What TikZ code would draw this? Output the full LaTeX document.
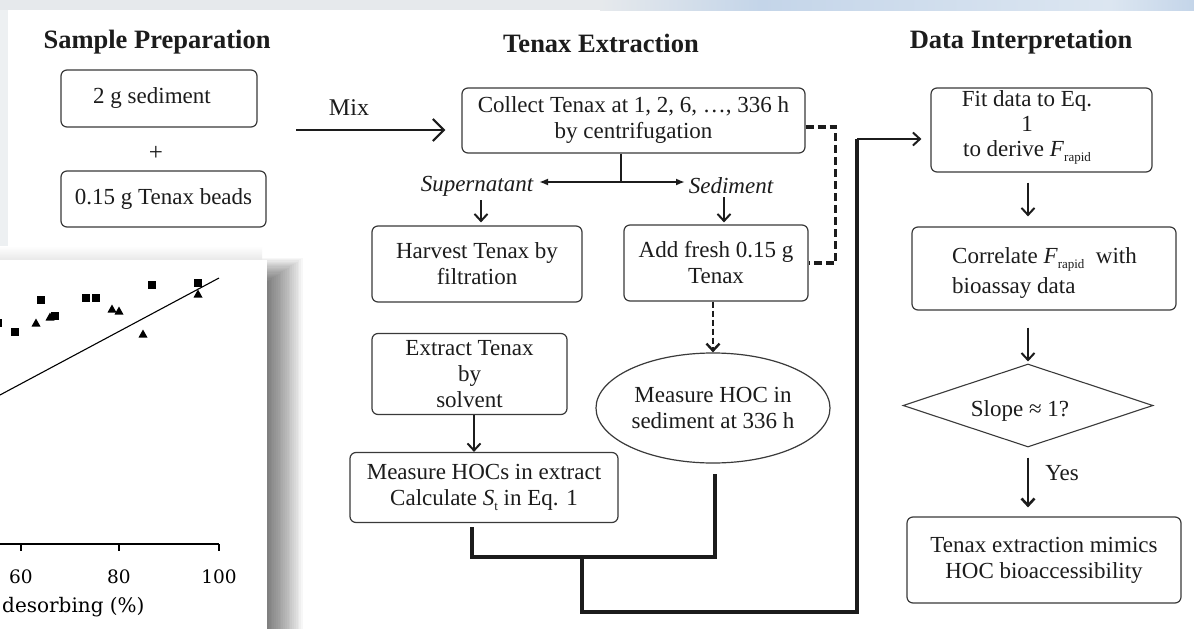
\documentclass[tikz,border=0pt]{standalone}
\usepackage{fontspec}
\setmainfont{Liberation Serif}
\newfontfamily\chartfont{DejaVu Serif}
\usetikzlibrary{arrows.meta,shapes.geometric}
\definecolor{ink}{HTML}{1C1C1C}
\definecolor{edge}{HTML}{3A3A3A}
\definecolor{framegray}{HTML}{E6E9EC}
\definecolor{frameblue}{HTML}{C4D5E9}
\definecolor{framelight}{HTML}{DCE6F1}
\newcommand\lowsub[1]{\raisebox{-5pt}{\fontsize{13}{13}\selectfont #1}}
\tikzset{
  body/.style={font=\fontsize{23}{26}\selectfont, text=ink, align=center, inner sep=0pt},
  head/.style={font=\fontsize{26.5}{30}\selectfont\bfseries, text=ink, inner sep=0pt},
  stepbox/.style={body, draw=edge, line width=1.2pt, rounded corners=6pt},
  arr/.style={draw=ink, line width=2pt, -{Straight Barb[length=7pt,width=13pt]}},
  bigarr/.style={draw=ink, line width=2.2pt, -{Straight Barb[length=11pt,width=22pt]}},
  fork/.style={draw=ink, line width=1.8pt, -{Latex[length=9pt,width=7pt]}},
  stem/.style={draw=ink, line width=1.8pt},
  dashline/.style={draw=ink, line width=3.4pt, dash pattern=on 8pt off 4pt},
  dasharr/.style={draw=ink, line width=2.4pt, dash pattern=on 6pt off 3pt, -{Straight Barb[length=7pt,width=13pt]}},
  heavy/.style={draw=ink, line width=4pt},
  chartnum/.style={font=\chartfont\fontsize{18.5}{20}\selectfont, text=black, inner sep=0pt, anchor=base},
}
\begin{document}
\begin{tikzpicture}[x=1pt,y=-1pt]
\useasboundingbox (0,0) rectangle (1194,629);
\fill[white] (0,0) rectangle (1194,629);

% slide frame along the top and left edges
\fill[framegray] (0,0) rectangle (600,10);
\shade[left color=framegray, right color=frameblue] (600,0) rectangle (760,10);
\shade[left color=frameblue, right color=framelight] (760,0) rectangle (1110,10);
\shade[left color=framelight, right color=frameblue] (1110,0) rectangle (1194,10);
\fill[framegray!70] (0,10) rectangle (8,260);

% inset plot: soft drop shadow, white panel, then its contents
\foreach \k in {1,...,20}
  \fill[black, opacity=0.03] (240,{282-1.2*\k}) rectangle ({267+1.8*\k},629);
\shade[top color=white, bottom color=black!9] (0,246) rectangle (262,260);
\fill[white] (0,260) rectangle (267,629);
\begin{scope}
  \clip (0,260) rectangle (267,629);
  \draw[line width=1.1pt] (-30,411) -- (219,278);
  \draw[line width=1.2pt] (-5,544) -- (219,544);
  \foreach \tx in {21,119,219} \draw[line width=1.2pt] (\tx,544) -- (\tx,551);
  \node[chartnum] (t60) at (21,583) {60};
  \node[chartnum] (t80) at (119,583) {80};
  \node[chartnum] (t100) at (219,583) {100};
  \node[chartnum, font=\chartfont\fontsize{20}{24}\selectfont, anchor=base west] (xlbl) at (2,612) {desorbing (\%)};
  \foreach \px/\py in {-2/323, 15/332, 41/300, 55/316, 86/298, 96/298, 152/285, 198/283}
    \fill ({\px-4},{\py-4}) rectangle ++(8,8);
  \foreach \px/\py in {36/323, 50/317, 112/309, 119/311, 143/334, 198/294}
    \fill ({\px-4.5},{\py+3.5}) -- ({\px+4.5},{\py+3.5}) -- (\px,{\py-4.5}) -- cycle;
\end{scope}

% column headings
\node[head] (hSample) at (157,42) {Sample Preparation};
\node[head] (hTenax) at (601,43) {Tenax Extraction};
\node[head] (hData) at (1021,42) {Data Interpretation};

% sample preparation
\node[stepbox, minimum width=196pt, minimum height=57pt] (sed) at (159,98.5) {2 g sediment\hspace*{14pt}};
\node[body, font=\fontsize{25}{28}\selectfont] (plus) at (156,153) {+};
\node[stepbox, minimum width=205pt, minimum height=56pt] (beads) at (163.5,199) {0.15 g Tenax beads};

% tenax extraction
\node[body, font=\fontsize{24}{28}\selectfont] (mixlbl) at (349,108) {Mix};
\node[stepbox, minimum width=343pt, minimum height=65pt] (collect) at (633.5,120.5)
  {Collect Tenax at 1, 2, 6, …, 336 h\\by centrifugation};
\node[body, font=\fontsize{23}{26}\selectfont\itshape] (suplbl) at (477,186) {Supernatant};
\node[body, font=\fontsize{23}{26}\selectfont\itshape] (sedlbl) at (731,186) {Sediment};
\node[stepbox, minimum width=210pt, minimum height=76pt] (harvest) at (477,264)
  {Harvest Tenax by\\filtration};
\node[stepbox, minimum width=184pt, minimum height=76pt] (add) at (716,263)
  {Add fresh 0.15 g\\Tenax};
\node[stepbox, minimum width=195pt, minimum height=81pt] (extract) at (469.5,374)
  {Extract Tenax\\by\\solvent};
\node[stepbox, minimum width=268pt, minimum height=70pt] (measure) at (484,487.5)
  {Measure HOCs in extract\\Calculate \textit{S}\lowsub{t} in Eq. 1};
\node[body, draw=edge, line width=1.2pt, ellipse, minimum width=234pt, minimum height=110pt] (hoc) at (713,408)
  {Measure HOC in\\sediment at 336 h};

% data interpretation
\node[stepbox, minimum width=221pt, minimum height=84pt] (fit) at (1041.5,130) {};
\node[body, font=\fontsize{23}{25}\selectfont] (fittxt) at (1027,127)
  {Fit data to Eq.\\1\\to derive \textit{F}\lowsub{rapid}};
\node[stepbox, minimum width=264pt, minimum height=83pt] (corr) at (1044,268.5) {};
\node[body, font=\fontsize{23}{30}\selectfont, align=left, anchor=west] (corrtxt) at (952,273)
  {Correlate \textit{F}\lowsub{rapid} \ with\\bioassay data};
\node[draw=edge, line width=1.1pt, diamond, minimum width=250pt, minimum height=83pt, inner sep=0pt] (dia) at (1028,405.5) {};
\node[body] (diatxt) at (1020,411) {Slope ≈ 1?};
\node[stepbox, minimum width=274pt, minimum height=86pt] (final) at (1044,560)
  {Tenax extraction mimics\\HOC bioaccessibility};
\node[body] (yes) at (1062,473) {Yes};

% connectors
\coordinate (mixstart) at (296,130);
\draw[bigarr, shorten >=16pt] (mixstart) -- (mixstart -| collect.west);

\coordinate (split) at (621,182);
\coordinate (supTip) at (539,182);
\coordinate (sedTip) at (685,182);
\draw[stem] (collect.south -| split) -- (split);
\draw[fork] (split) -- (supTip);
\draw[fork] (split) -- (sedTip);
\coordinate (supFoot) at (481,200);
\coordinate (sedFoot) at (724,197);
\draw[arr, shorten >=3pt] (supFoot) -- (supFoot |- harvest.north);
\draw[arr, shorten >=2pt] (sedFoot) -- (sedFoot |- add.north);

\draw[dashline] ([yshift=-6.5pt]collect.east) -- ++(30,0) |- (add.east);
\draw[dasharr] (hoc.north |- add.south) -- (hoc.north);
\draw[arr] ([xshift=4.5pt]extract.south) -- ([xshift=4.5pt]extract.south |- measure.north);

\draw[heavy] ([xshift=-12pt,yshift=-4pt]measure.south) -- ++(0,30) -| ([xshift=2pt,yshift=-10pt]hoc.south);
\coordinate (join) at (582,556);
\coordinate (riseFoot) at (857,612);
\coordinate (riseTop) at (857,139);
\draw[heavy] (join) |- (riseFoot) -- (riseTop);
\draw[arr, shorten >=9pt] (riseTop) -- (riseTop -| fit.west);

\draw[arr, shorten <=10pt, shorten >=10pt] (dia.north |- fit.south) -- (dia.north |- corr.north);
\draw[arr, shorten <=17pt, shorten >=2pt] (dia.north |- corr.south) -- (dia.north);
\draw[arr, line width=2.6pt, shorten <=10pt, shorten >=9pt] (dia.south) -- (dia.south |- final.north);
\end{tikzpicture}
\end{document}
